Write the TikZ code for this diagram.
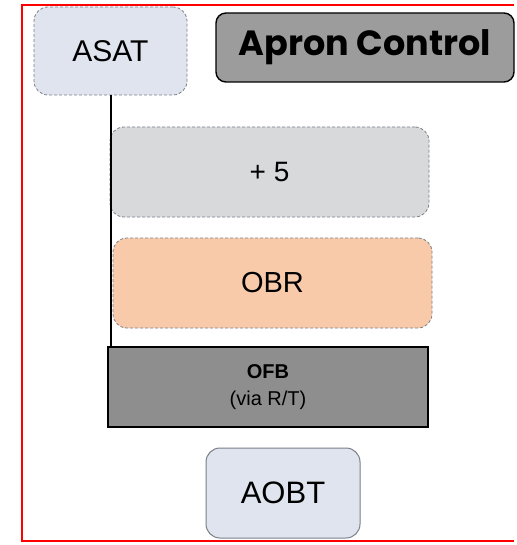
\documentclass[tikz,border=0pt]{standalone}
\usepackage{fontspec}
\setmainfont{Liberation Sans}
\newfontfamily\popp{Poppins}
\definecolor{lightblue}{HTML}{DFE4EE}
\definecolor{plusgray}{HTML}{D8D9DB}
\definecolor{peach}{HTML}{F9CAA9}
\definecolor{ofbgray}{HTML}{8E8E8E}
\definecolor{aprongray}{HTML}{9C9C9C}
\definecolor{dashgray}{HTML}{7A7F88}
\begin{document}
\begin{tikzpicture}[x=1pt,y=-1pt,
  box/.style={rectangle,rounded corners=14pt,inner sep=0pt,outer sep=0pt,align=center},
  dashbox/.style={box,draw=dashgray,densely dashed,line width=0.8pt},
  link/.style={draw=black,line width=2pt},
  frame/.style={draw=red,line width=2.6pt}]
\useasboundingbox (0,0) rectangle (516,545);
\fill[white] (0,0) rectangle (516,545);
% red frame (open on the right)
\draw[frame] (20.7,5) -- (514,5);
\draw[frame] (22,3.7) -- (22,542.3);
\draw[frame] (20.7,541) -- (514,541);
\node[dashbox,fill=lightblue,minimum width=153pt,minimum height=88pt,font=\fontsize{30}{32}\selectfont] (asat) at (110.5,51) {ASAT};
\node[box,rounded corners=10pt,draw=black,line width=1.4pt,fill=aprongray,minimum width=298pt,minimum height=69pt,font=\popp\bfseries\fontsize{35}{37}\selectfont] (apron) at (365,47.5) {Apron Control};
\node[dashbox,fill=plusgray,minimum width=319pt,minimum height=90pt,font=\fontsize{28}{30}\selectfont] (plus) at (269.5,172) {+ 5};
\node[dashbox,fill=peach,minimum width=319pt,minimum height=90pt,font=\fontsize{29}{31}\selectfont] (obr) at (272.5,283) {OBR};
\node[rectangle,draw=black,line width=1.6pt,fill=ofbgray,minimum width=320pt,minimum height=80pt,inner sep=0pt,align=center,font=\fontsize{20}{27}\selectfont] (ofb) at (268,387)
  {\textbf{OFB}\\(via R/T)};
\node[box,draw=dashgray,line width=1pt,fill=lightblue,minimum width=154pt,minimum height=90pt,font=\fontsize{31}{33}\selectfont] (aobt) at (283,493) {AOBT};
\draw[link] (asat.south) -- (asat.south |- ofb.north);
\end{tikzpicture}
\end{document}
